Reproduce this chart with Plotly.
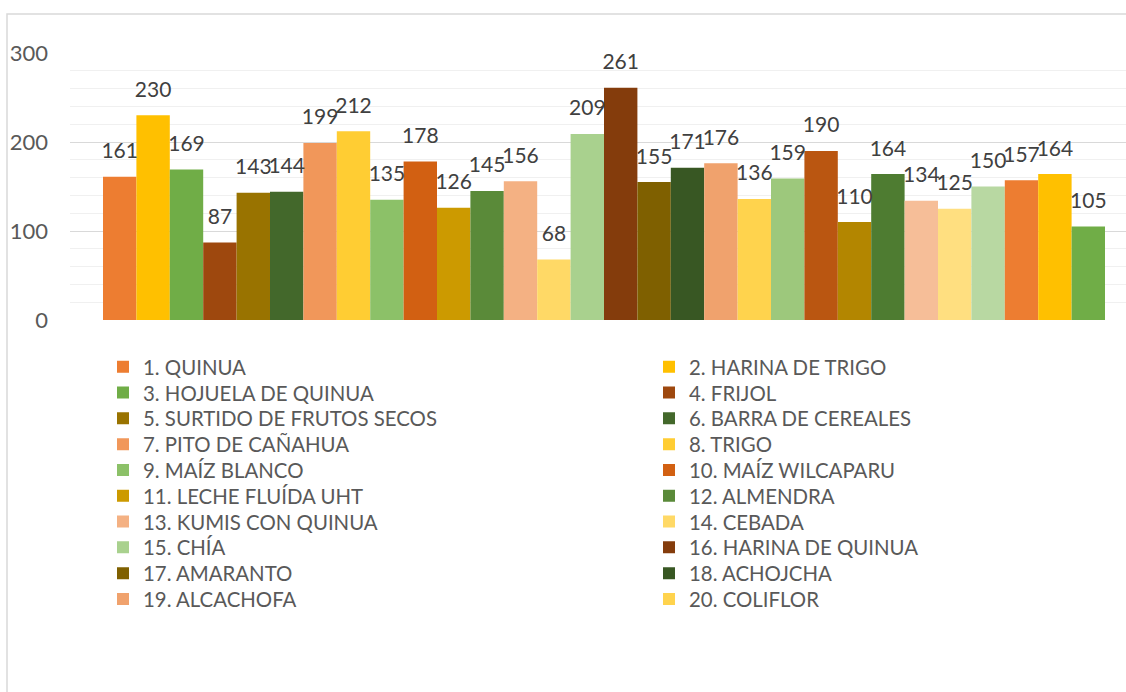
import plotly.graph_objects as go

names = [
    "1. QUINUA", "2. HARINA DE TRIGO", "3. HOJUELA DE QUINUA", "4. FRIJOL",
    "5. SURTIDO DE FRUTOS SECOS", "6. BARRA DE CEREALES", "7. PITO DE CAÑAHUA",
    "8. TRIGO", "9. MAÍZ BLANCO", "10. MAÍZ WILCAPARU", "11. LECHE FLUÍDA UHT",
    "12. ALMENDRA", "13. KUMIS CON QUINUA", "14. CEBADA", "15. CHÍA",
    "16. HARINA DE QUINUA", "17. AMARANTO", "18. ACHOJCHA", "19. ALCACHOFA",
    "20. COLIFLOR", "21.", "22.", "23.", "24.", "25.", "26.", "27.", "28.", "29.", "30.",
]
values = [161, 230, 169, 87, 143, 144, 199, 212, 135, 178, 126, 145, 156, 68, 209,
          261, 155, 171, 176, 136, 159, 190, 110, 164, 134, 125, 150, 157, 164, 105]
colors = [
    "#ED7D31", "#FFC000", "#70AD47", "#9E480E", "#997300", "#43682B",
    "#F1975A", "#FFCD33", "#8CC168", "#D26012", "#CC9A00", "#5A8A39",
    "#F4B183", "#FFD966", "#A9D18E", "#843C0C", "#7F6000", "#385723",
    "#F0A26D", "#FFD34D", "#9DC87C", "#BA5611", "#B38600", "#4E7C31",
    "#F6BE98", "#FFDF80", "#B8D8A2", "#ED7D31", "#FFC000", "#70AD47",
]
category = ["Productos"]
n_legend = 20

FONT = "Lato"
L, R, T, B = 70, 0, 53, 372
W, H = 1126, 692
PW, PH = W - L - R, H - T - B

fig = go.Figure()
legends = {}
for i, (nm, v, c) in enumerate(zip(names, values, colors)):
    show = i < n_legend
    key = "legend" if i == 0 else f"legend{i + 1}"
    fig.add_trace(go.Bar(
        x=category, y=[v], name=nm, marker_color=c, marker_line_width=0,
        showlegend=show, legend=key if show else "legend", yaxis="y",
    ))
    if show:
        col, row = i % 2, i // 2
        left_px = 103 if col == 0 else 649
        yc_px = 367 + 25.8 * row
        legends[key] = dict(
            x=(left_px - L) / PW, xanchor="left",
            y=(H - B - yc_px) / PH, yanchor="middle",
            orientation="v", bgcolor="rgba(0,0,0,0)",
            font=dict(family=FONT, size=20.4, color="#595959"),
        )
# transparent copies on a shifted overlay axis carry the data labels
for i, (nm, v) in enumerate(zip(names, values)):
    fig.add_trace(go.Bar(
        x=category, y=[v], name=nm, marker_color="rgba(0,0,0,0)",
        marker_line_width=0, showlegend=False, yaxis="y2",
        text=[str(v)], textposition="outside", constraintext="none",
        cliponaxis=False, textfont=dict(family=FONT, size=21, color="#404040"),
        hoverinfo="skip",
    ))

shift = 11.5 * 300 / PH
fig.update_layout(
    width=W, height=H,
    margin=dict(l=L, r=R, t=T, b=B, autoexpand=False),
    paper_bgcolor="white", plot_bgcolor="white",
    barmode="group", bargap=0.0618, bargroupgap=0,
    font=dict(family=FONT, color="#595959"),
    xaxis=dict(range=[-0.5, 0.48876], showticklabels=False, showgrid=False,
               zeroline=False, showline=False, ticks=""),
    yaxis=dict(range=[0, 300], dtick=100, showline=False, zeroline=False,
               gridcolor="#d9d9d9", gridwidth=1.3, ticks="",
               tickfont=dict(family=FONT, size=22, color="#595959"),
               ticklabelstandoff=21,
               minor=dict(dtick=20, showgrid=True, gridcolor="#f0f0f0", gridwidth=1.3)),
    yaxis2=dict(range=[-shift, 300 - shift], overlaying="y", visible=False),
    shapes=[dict(type="rect", xref="paper", yref="paper",
                 x0=(7 - L) / PW, x1=1.5, y0=-2, y1=(H - B - 14) / PH,
                 line=dict(color="#d9d9d9", width=1.5), fillcolor="rgba(0,0,0,0)",
                 layer="below")],
    showlegend=True,
    **legends,
)
fig.write_html("out.html", config={"displayModeBar": False},
               post_script="document.body.style.margin='0';")
